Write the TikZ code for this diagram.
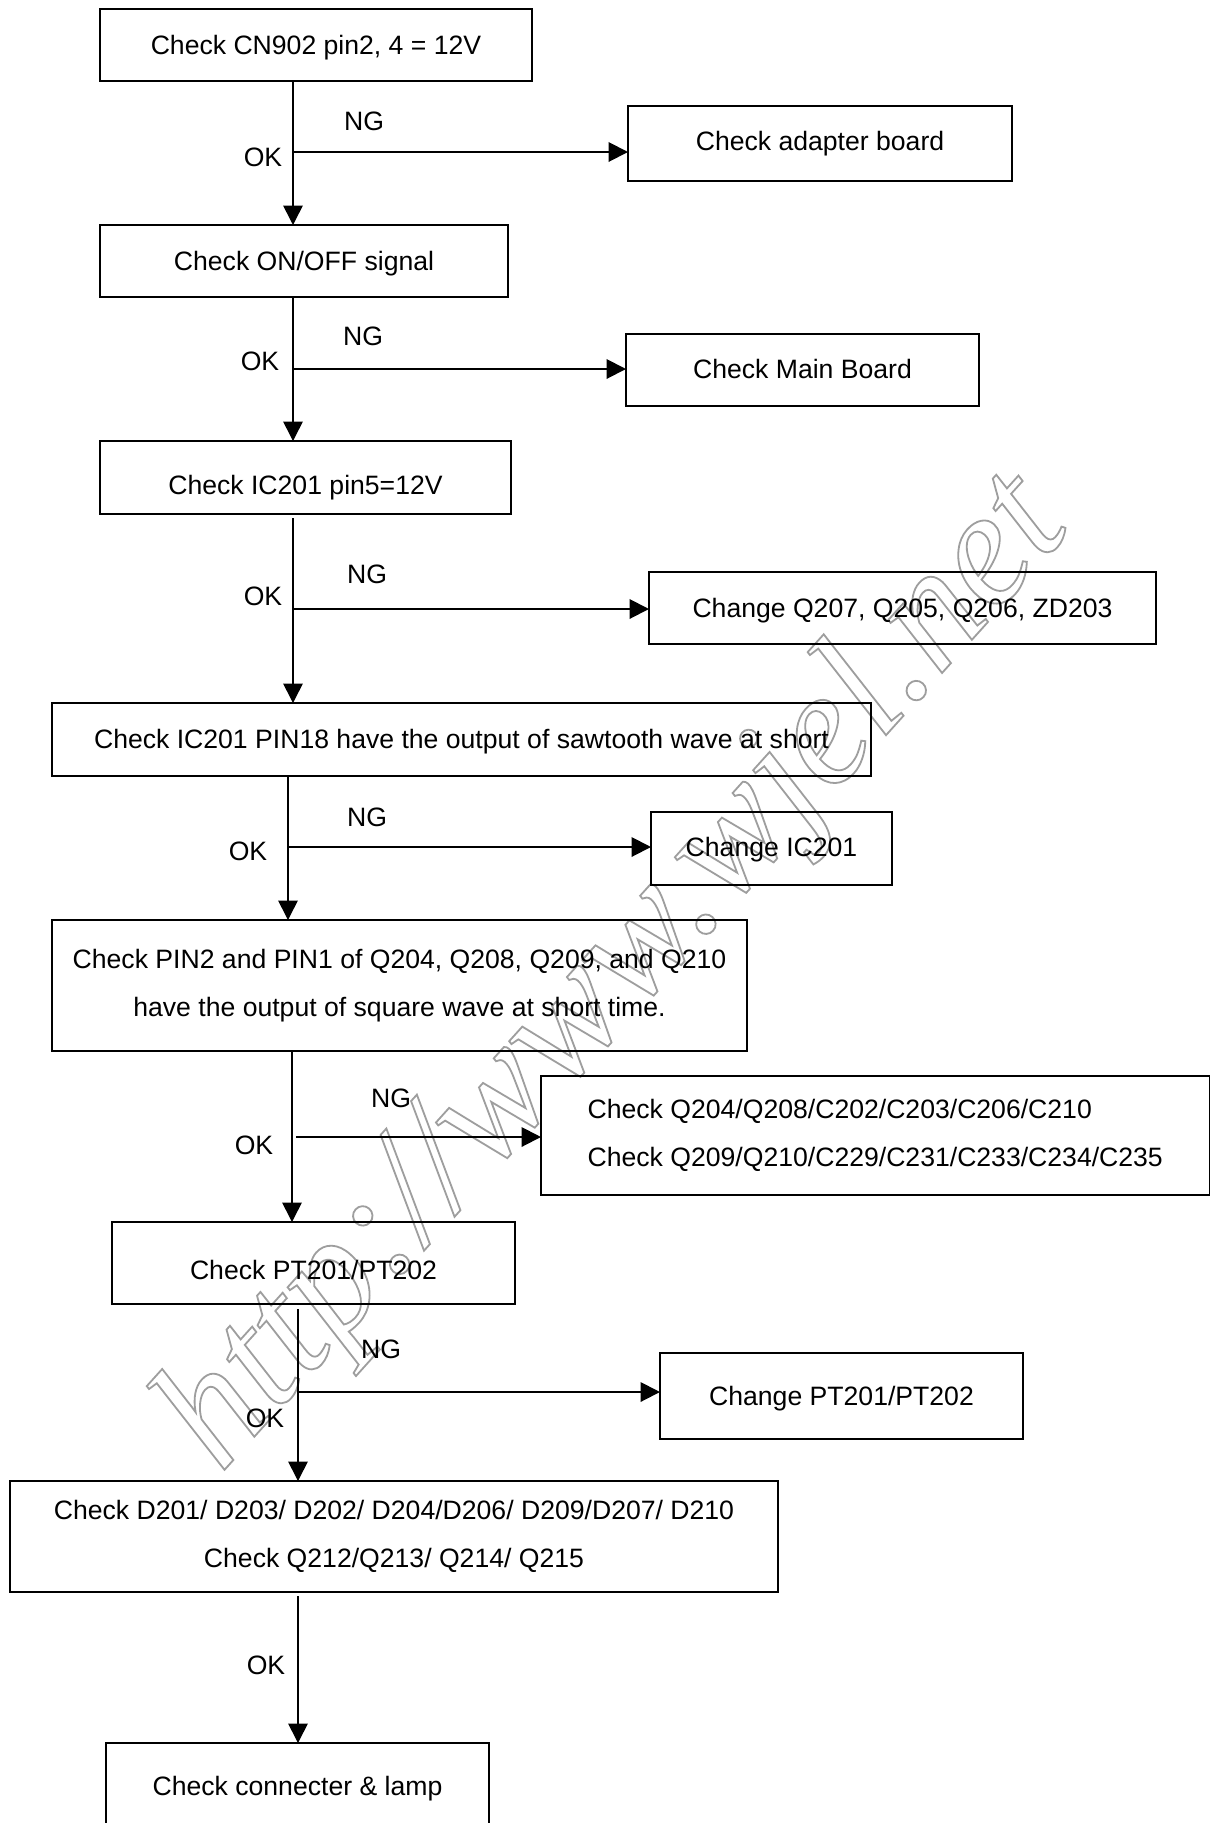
\documentclass[tikz,border=0pt]{standalone}
\usepackage{fontspec}
\setmainfont{Liberation Sans}
\newfontfamily\wmfont{Liberation Serif}
\usetikzlibrary{arrows.meta}
\definecolor{wmgray}{gray}{0.62}
\newcommand\wmoutline[1]{\special{pdf:literal direct 1 Tr 1.8 w}#1\special{pdf:literal direct 0 Tr}}
\begin{document}
\begin{tikzpicture}[x=1pt,y=-1pt,
  box/.style={draw, line width=1.8pt, inner sep=0pt, outer sep=0pt,
    font=\fontsize{26.6}{48}\selectfont, text depth=0pt, text height=19pt},
  mbox/.style={draw, line width=1.8pt, inner sep=0pt, outer sep=0pt,
    font=\fontsize{26.6}{48}\selectfont, align=center},
  lbl/.style={inner sep=0pt, font=\fontsize{26.6}{32}\selectfont,
    text height=19pt, text depth=0pt},
  vline/.style={line width=1.6pt, -{Triangle[length=19.5pt,width=19.5pt]}},
  hline/.style={line width=2pt, -{Triangle[length=19.5pt,width=19.5pt]}},
  wmstyle/.style={inner sep=0pt, rotate=48, text=wmgray,
    font=\wmfont\itshape\fontsize{164}{164}\selectfont}
]
\useasboundingbox (0,0) rectangle (1211,1823);
\fill[white] (0,0) rectangle (1211,1823);

% watermark
\node[wmstyle] (wm) at (617,975) {\wmoutline{http://www.wjel.net}};

% main boxes
\node[box, minimum width=432pt, minimum height=72pt] (b1) at (316,45) {Check CN902 pin2, 4 = 12V};
\node[box, minimum width=408pt, minimum height=72pt] (b2) at (304,261) {Check ON/OFF signal};
\node[box, minimum width=411pt, minimum height=73pt, text height=33pt] (b3) at (305.5,477.5) {Check IC201 pin5=12V};
\node[box, minimum width=819pt, minimum height=73pt, text height=17.2pt] (b4) at (461.5,739.5) {Check IC201 PIN18 have the output of sawtooth wave at short};
\node[mbox, minimum width=695pt, minimum height=131pt] (b5) at (399.5,985.5) {Check PIN2 and PIN1 of Q204, Q208, Q209, and Q210\\have the output of square wave at short time.};
\node[box, minimum width=403pt, minimum height=82pt, text height=32pt] (b6) at (313.5,1263) {Check PT201/PT202};
\node[mbox, minimum width=768pt, minimum height=111pt] (b7) at (394,1536.5) {Check D201/ D203/ D202/ D204/D206/ D209/D207/ D210\\Check Q212/Q213/ Q214/ Q215};
\node[box, minimum width=383pt, minimum height=86pt] (b8) at (297.5,1786) {Check connecter \& lamp};

% NG boxes
\node[box, minimum width=384pt, minimum height=75pt, text height=14pt] (ng1) at (820,143.5) {Check adapter board};
\node[box, minimum width=353pt, minimum height=72pt, text height=16.4pt] (ng2) at (802.5,370) {Check Main Board};
\node[box, minimum width=507pt, minimum height=72pt, text height=18.2pt] (ng3) at (902.5,608) {Change Q207, Q205, Q206, ZD203};
\node[box, minimum width=241pt, minimum height=73pt, text height=15.4pt] (ng4) at (771.5,848.5) {Change IC201};
\node[mbox, align=left, minimum width=668.5pt, minimum height=119pt] (ng5) at (875.25,1135.5) {Check Q204/Q208/C202/C203/C206/C210\\Check Q209/Q210/C229/C231/C233/C234/C235};
\node[box, minimum width=363pt, minimum height=86pt] (ng6) at (841.5,1396) {Change PT201/PT202};

% trunk coordinates
\coordinate (x1) at (293,0);
\coordinate (s3) at (293,518);
\coordinate (x4) at (288,0);
\coordinate (x5) at (292,0);
\coordinate (s6) at (298,1309);
\coordinate (s7) at (298,1596);
\coordinate (j1) at (293,152);
\coordinate (j2) at (293,369);
\coordinate (j3) at (293,609);
\coordinate (j4) at (288,847);
\coordinate (j5) at (296,1137);
\coordinate (j6) at (298,1392);

% OK path
\draw[vline] (b1.south -| x1) -- (b2.north -| x1);
\draw[vline] (b2.south -| x1) -- (b3.north -| x1);
\draw[vline] (s3) -- (b4.north -| s3);
\draw[vline] (b4.south -| x4) -- (b5.north -| x4);
\draw[vline] (b5.south -| x5) -- (b6.north -| x5);
\draw[vline] (s6) -- (b7.north -| s6);
\draw[vline] (s7) -- (b8.north -| s7);

% NG arrows
\draw[hline] (j1) -- (ng1.west |- j1);
\draw[hline] (j2) -- (ng2.west |- j2);
\draw[hline] (j3) -- (ng3.west |- j3);
\draw[hline] (j4) -- (ng4.west |- j4);
\draw[hline] (j5) -- (ng5.west |- j5);
\draw[hline] (j6) -- (ng6.west |- j6);

% labels
\node[lbl] (ng1l) at (364,121) {NG};
\node[lbl] (ok1l) at (263,157) {OK};
\node[lbl] (ng2l) at (363,336) {NG};
\node[lbl] (ok2l) at (260,361) {OK};
\node[lbl] (ng3l) at (367,574) {NG};
\node[lbl] (ok3l) at (263,596) {OK};
\node[lbl] (ng4l) at (367,817) {NG};
\node[lbl] (ok4l) at (248,851) {OK};
\node[lbl] (ng5l) at (391,1098) {NG};
\node[lbl] (ok5l) at (254,1145) {OK};
\node[lbl] (ng6l) at (381,1349) {NG};
\node[lbl] (ok6l) at (265,1418) {OK};
\node[lbl] (ok7l) at (266,1665) {OK};
\end{tikzpicture}
\end{document}
